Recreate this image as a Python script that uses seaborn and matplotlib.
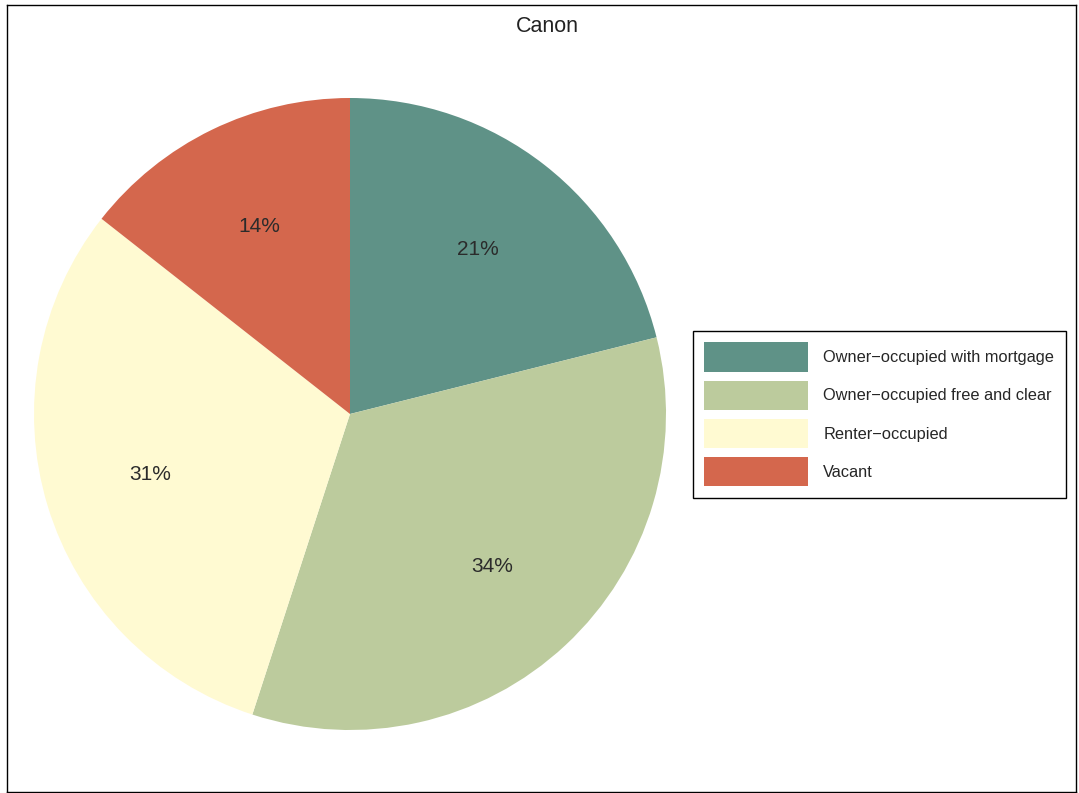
import matplotlib
matplotlib.use("Agg")
import matplotlib.pyplot as plt
import seaborn as sns

# data (slice sizes)
categories = ["Owner\u2212occupied with mortgage",
              "Owner\u2212occupied free and clear",
              "Renter\u2212occupied",
              "Vacant"]
shares = [21.1, 33.9, 30.6, 14.4]
slice_colors = ["#5F9287", "#BCCB9D", "#FFFAD2", "#D4674D"]
title = "Canon"

sns.set_theme(style="white")
plt.rcParams["font.family"] = ["Liberation Sans", "DejaVu Sans"]

fig = plt.figure(figsize=(10.79, 7.93), dpi=100)
ax = fig.add_axes([7 / 1079, 1 - 792 / 793, (1076 - 7) / 1079, (792 - 5) / 793])

palette = sns.color_palette(slice_colors)
wedges, texts, autotexts = ax.pie(
    shares, colors=palette, startangle=90, counterclock=False,
    autopct="%.0f%%", pctdistance=0.66, radius=1.0,
    wedgeprops=dict(linewidth=0),
    textprops=dict(fontsize=15, color="#2b2b2b"))

# pixel scale: radius = 316 px, centre at (350, 414)
r = 316.0
ax.set_xlim(-(350 - 7) / r, (1076 - 350) / r)
ax.set_ylim(-(792 - 414) / r, (414 - 5) / r)
ax.set_aspect("auto")
ax.set_frame_on(True)
for s in ax.spines.values():
    s.set_visible(True)
    s.set_color("black")
    s.set_linewidth(1.0)

leg = ax.legend(wedges, categories, loc="upper left",
                bbox_to_anchor=(693 / 1079, 1 - 331 / 793),
                bbox_transform=fig.transFigure, borderaxespad=0,
                fontsize=11.8, handlelength=6.3, handleheight=2.4,
                labelspacing=0.52, handletextpad=0.95, borderpad=0.7,
                fancybox=False, frameon=True, framealpha=1)
leg.get_frame().set_edgecolor("black")
leg.get_frame().set_linewidth(1.0)

fig.text(547 / 1079, 1 - 27 / 793, title, ha="center", va="center",
         fontsize=15.5, color="#222222")

fig.savefig("out.png", dpi=100)
